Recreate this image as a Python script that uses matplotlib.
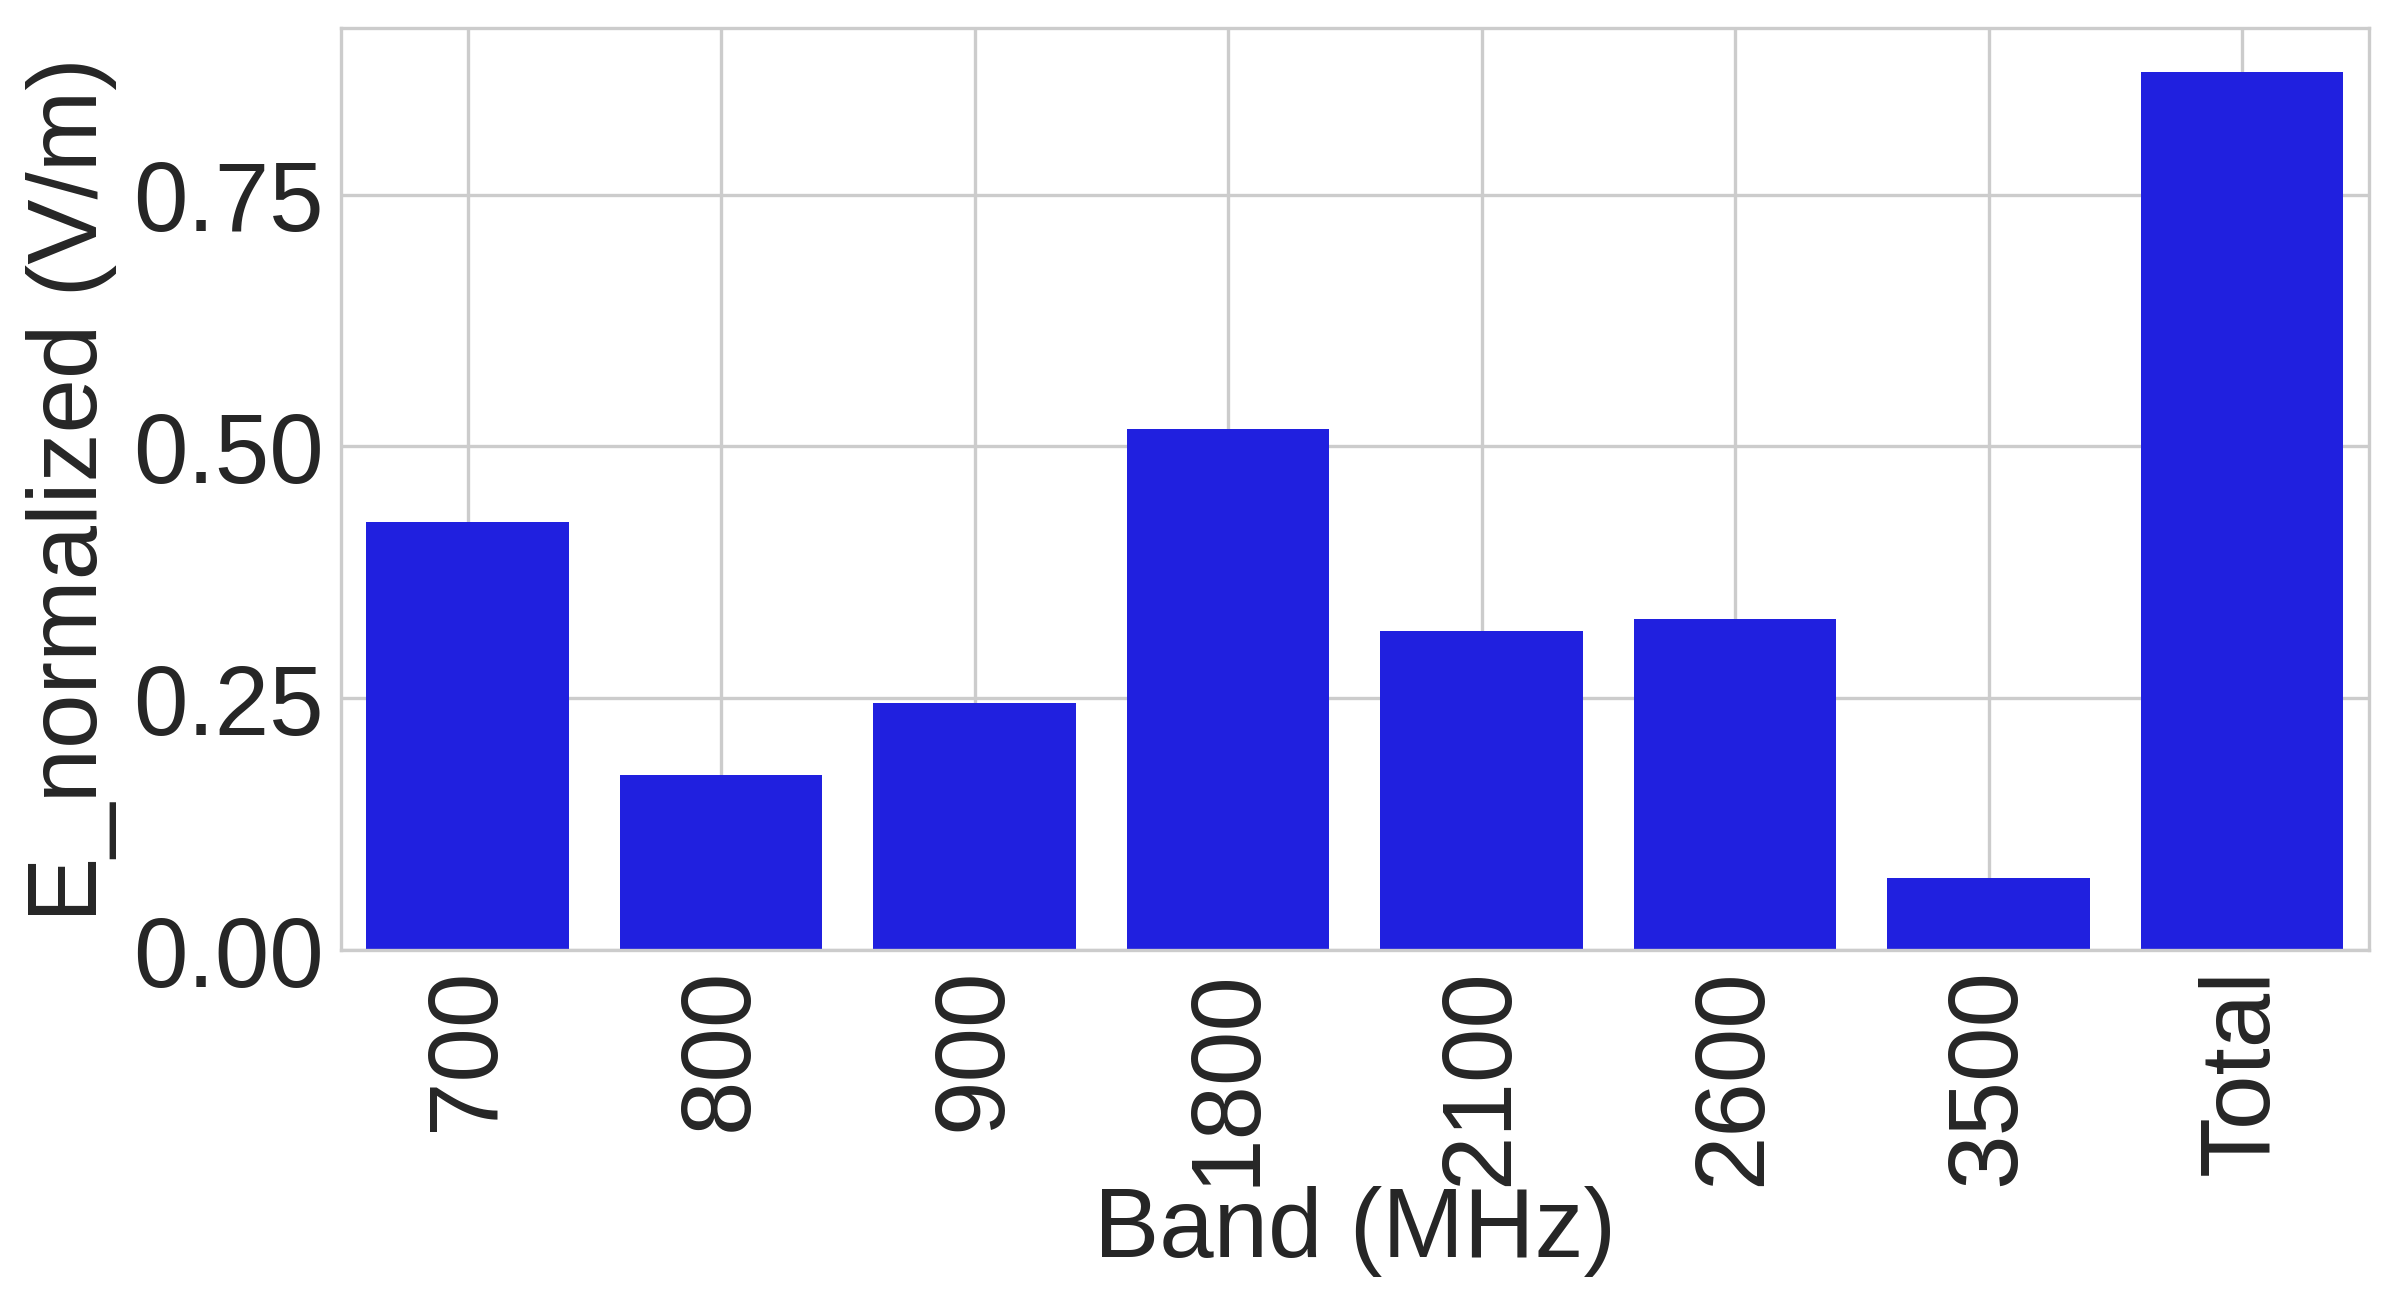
import matplotlib
matplotlib.use("Agg")
import matplotlib.pyplot as plt

# band labels and normalized field values
bands = ["700", "800", "900", "1800", "2100", "2600", "3500", "Total"]
e_normalized = [0.425, 0.174, 0.245, 0.517, 0.317, 0.329, 0.072, 0.872]

plt.rcParams['font.family'] = ['Liberation Sans', 'DejaVu Sans']
plt.rcParams['text.color'] = '.15'
plt.rcParams['axes.labelcolor'] = '.15'
plt.rcParams['xtick.color'] = '.15'
plt.rcParams['ytick.color'] = '.15'

fig = plt.figure(figsize=(8, 4.3433), dpi=300)
ax = fig.add_axes([0.142, 0.27, 0.845, 0.708])

ax.bar(range(len(bands)), e_normalized, width=0.8, color=(0.125, 0.125, 0.875), zorder=2)
ax.set_xlim(-0.5, len(bands) - 0.5)

ax.set_xticks(range(len(bands)))
ax.set_xticklabels(bands, rotation=90)
ax.set_yticks([0.0, 0.25, 0.5, 0.75])
ax.set_yticklabels(["0.00", "0.25", "0.50", "0.75"])
ax.tick_params(axis='both', length=0, labelsize=23.5, pad=4)

ax.grid(True, color='.8', linewidth=0.8, zorder=0)
ax.set_axisbelow(True)
for spine in ax.spines.values():
    spine.set_color('.8')
    spine.set_linewidth(0.8)

ax.set_xlabel("Band (MHz)", fontsize=23.5, labelpad=0)
ax.set_ylabel("E_normalized (V/m)", fontsize=23.5, labelpad=4)

fig.savefig("out.png", dpi=300, facecolor='white')
